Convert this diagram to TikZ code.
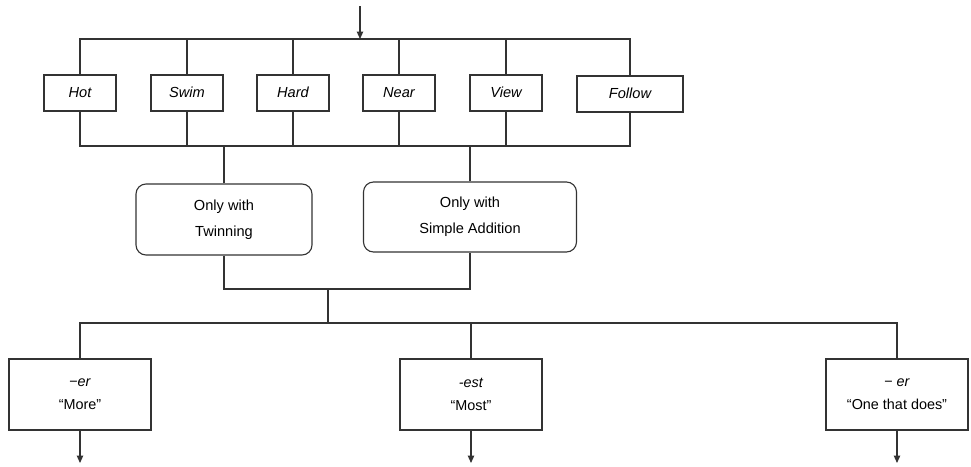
\documentclass[tikz,border=0pt]{standalone}
\usepackage{fontspec}
\setmainfont{Liberation Sans}
\usetikzlibrary{arrows.meta}
\begin{document}
\begin{tikzpicture}[x=1pt,y=-1pt,
  line width=1.1pt, draw=black!80,
  wordbox/.style={draw, minimum width=72pt, minimum height=36pt, inner sep=0pt,
    text height=10.5pt, text depth=2pt,
    font=\fontsize{14.6}{17}\selectfont\itshape},
  rulebox/.style={draw, rounded corners=10pt, align=center, inner sep=0pt,
    font=\fontsize{14.6}{26}\selectfont},
  suffixbox/.style={draw, minimum width=142pt, minimum height=71pt, align=center,
    inner sep=0pt, font=\fontsize{14.4}{23}\selectfont},
  flow/.style={-{Triangle[length=7.5pt,width=6.5pt]}}]

% page frame
\useasboundingbox (0,0) rectangle (971,466);

% base words
\node[wordbox] (hot)    at (80,93)  {Hot};
\node[wordbox] (swim)   at (187,93) {Swim};
\node[wordbox] (hard)   at (293,93) {Hard};
\node[wordbox] (near)   at (399,93) {Near};
\node[wordbox] (view)   at (506,93) {View};
\node[wordbox, minimum width=106pt] (follow) at (630,94) {Follow};

% spelling rules
\node[rulebox, minimum width=176pt, minimum height=71pt] (twin) at (224,219.5)
  {Only with\\Twinning};
\node[rulebox, minimum width=213pt, minimum height=70pt] (simple) at (470,217)
  {Only with\\Simple Addition};

% suffixes
\node[suffixbox] (more) at (80,394.5)  {\textit{−er}\\“More”};
\node[suffixbox] (most) at (471,394.5) {\textit{-est}\\“Most”};
\node[suffixbox] (does) at (897,394.5) {\textit{− er}\\“One that does”};

% helper coordinates for the bus lines
\coordinate (in)    at (360,6);
\coordinate (tb)    at (0,39);
\coordinate (bb)    at (0,146);
\coordinate (jn)    at (328,289);
\coordinate (split) at (328,323);
\coordinate (o1) at (80,463);
\coordinate (o2) at (471,463);
\coordinate (o3) at (897,463);

% input arrow
\draw[flow] (in) -- (in |- tb);

% top bus
\draw (hot.north) |- (follow.north |- tb) -- (follow.north);
\foreach \n in {swim,hard,near,view}
  \draw (\n.north) -- (\n.north |- tb);

% bottom bus
\draw (hot.south) |- (follow.south |- bb) -- (follow.south);
\foreach \n in {swim,hard,near,view}
  \draw (\n.south) -- (\n.south |- bb);

% into the rule boxes
\draw (twin.north) -- (twin.north |- bb);
\draw (simple.north) -- (simple.north |- bb);

% join the rules
\draw (twin.south) |- (simple.south |- jn) -- (simple.south);
\draw (jn) -- (split);

% out to the suffixes
\draw (more.north) |- (does.north |- split) -- (does.north);
\draw (most.north) -- (most.north |- split);

% outputs
\draw[flow] (more.south) -- (o1);
\draw[flow] (most.south) -- (o2);
\draw[flow] (does.south) -- (o3);
\end{tikzpicture}
\end{document}
